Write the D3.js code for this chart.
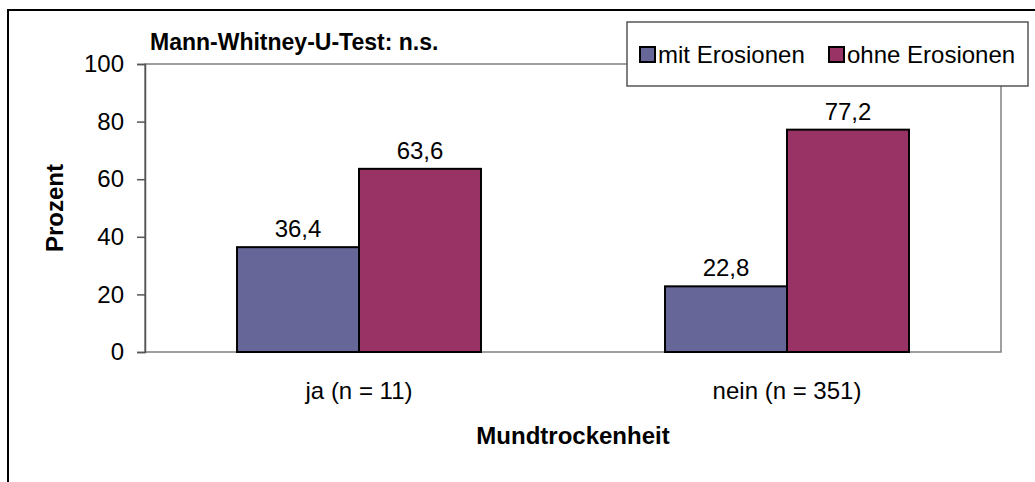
<!DOCTYPE html>
<html>
<head>
<meta charset="utf-8">
<script src="https://cdn.jsdelivr.net/npm/d3@7"></script>
<style>
  html, body { margin: 0; padding: 0; background: #fff; }
  svg { display: block; font-family: "Liberation Sans", Arial, sans-serif; }
</style>
</head>
<body>
<svg id="chart" width="1035" height="482"></svg>
<script>
const categories = ["ja (n = 11)", "nein (n = 351)"];
const seriesNames = ["mit Erosionen", "ohne Erosionen"];
const mitErosionen = [36.4, 22.8];
const ohneErosionen = [63.6, 77.2];
const yTicks = [0, 20, 40, 60, 80, 100];
const colors = ["#666699", "#993366"];

const FS = 24;
const fmt = v => d3.format(".1f")(v).replace(".", ",");

const svg = d3.select("#chart");
const plot = { left: 145, top: 64, right: 1001, bottom: 352 };

// outer frame (extends beyond right/bottom of view)
svg.append("rect").attr("x", 8).attr("y", 10).attr("width", 1100).attr("height", 600)
  .attr("fill", "none").attr("stroke", "#000").attr("stroke-width", 2);

const x0 = d3.scaleBand().domain(categories).range([plot.left, plot.right])
  .paddingInner(0.43).paddingOuter(0.215);
const x1 = d3.scaleBand().domain(seriesNames).range([0, x0.bandwidth()]);
const y = d3.scaleLinear().domain([0, 100]).range([plot.bottom, plot.top]);

// plot area border
svg.append("rect").attr("x", plot.left).attr("y", plot.top)
  .attr("width", plot.right - plot.left).attr("height", plot.bottom - plot.top)
  .attr("fill", "none").attr("stroke", "#808080").attr("stroke-width", 1.5);

// y axis
const yAxis = d3.axisLeft(y).tickValues(yTicks).tickSize(8).tickPadding(13).tickFormat(d3.format("d"));
const yg = svg.append("g").attr("transform", `translate(${plot.left},0)`).call(yAxis);
yg.select(".domain").attr("stroke", "#555").attr("stroke-width", 1.5);
yg.selectAll(".tick line").attr("stroke", "#555").attr("stroke-width", 1.5);
yg.selectAll(".tick text").attr("font-size", FS).attr("fill", "#000")
  .attr("font-family", "Liberation Sans, Arial, sans-serif");

// bars
const data = categories.map((c, i) => ({ cat: c, vals: [mitErosionen[i], ohneErosionen[i]] }));
const groups = svg.selectAll("g.grp").data(data).join("g").attr("class", "grp")
  .attr("transform", d => `translate(${x0(d.cat)},0)`);
groups.selectAll("rect").data(d => d.vals.map((v, j) => ({ v, s: seriesNames[j], j })))
  .join("rect")
  .attr("x", d => x1(d.s)).attr("y", d => y(d.v))
  .attr("width", x1.bandwidth()).attr("height", d => y(0) - y(d.v))
  .attr("fill", d => colors[d.j]).attr("stroke", "#000").attr("stroke-width", 2);
groups.selectAll("text").data(d => d.vals.map((v, j) => ({ v, s: seriesNames[j] })))
  .join("text")
  .attr("x", d => x1(d.s) + x1.bandwidth() / 2).attr("y", d => y(d.v) - 10)
  .attr("text-anchor", "middle").attr("font-size", FS).text(d => fmt(d.v));

// x axis labels
const xAxis = d3.axisBottom(x0).tickSize(0).tickPadding(30);
const xg = svg.append("g").attr("transform", `translate(0,${plot.bottom})`).call(xAxis);
xg.select(".domain").remove();
xg.selectAll(".tick text").attr("font-size", FS).attr("fill", "#000")
  .attr("font-family", "Liberation Sans, Arial, sans-serif");

// axis titles
svg.append("text").attr("x", (plot.left + plot.right) / 2).attr("y", 444)
  .attr("text-anchor", "middle").attr("font-size", FS).attr("font-weight", "bold")
  .text("Mundtrockenheit");
svg.append("text").attr("transform", `translate(63,${(plot.top + plot.bottom) / 2}) rotate(-90)`)
  .attr("text-anchor", "middle").attr("font-size", FS).attr("font-weight", "bold")
  .text("Prozent");

// statistical note
svg.append("text").attr("x", 150).attr("y", 50).attr("font-size", 23).attr("font-weight", "bold")
  .text("Mann-Whitney-U-Test: n.s.");

// legend
const lg = svg.append("g");
lg.append("rect").attr("x", 627).attr("y", 22).attr("width", 401).attr("height", 64)
  .attr("fill", "#fff").attr("stroke", "#555").attr("stroke-width", 1.5);
const legX = [640, 829];
seriesNames.forEach((s, i) => {
  lg.append("rect").attr("x", legX[i]).attr("y", 47).attr("width", 15).attr("height", 15)
    .attr("fill", colors[i]).attr("stroke", "#000").attr("stroke-width", 2);
  lg.append("text").attr("x", legX[i] + 18).attr("y", 63).attr("font-size", FS).text(s);
});
</script>
</body>
</html>
